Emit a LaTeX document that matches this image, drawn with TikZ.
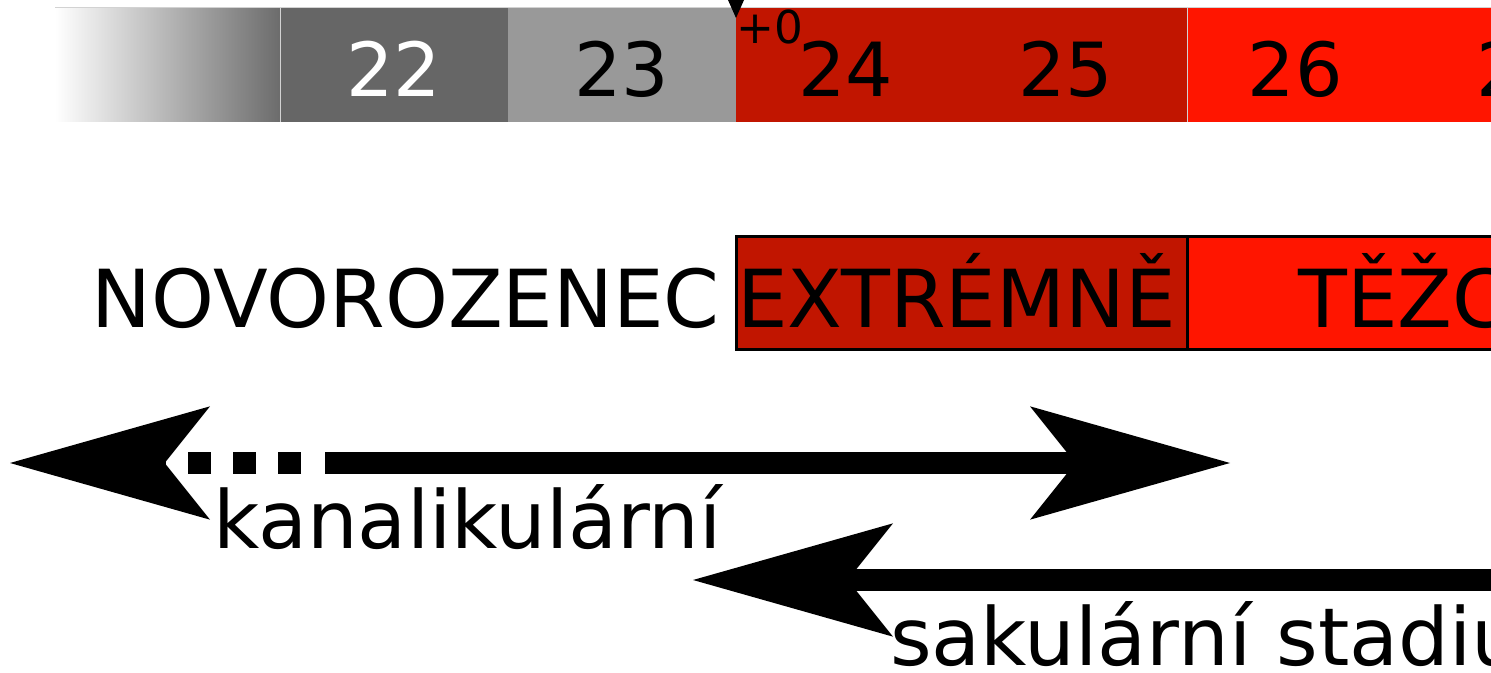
\documentclass[tikz,border=0pt]{standalone}
\usepackage{fontspec}
\setmainfont{DejaVu Sans}
\usetikzlibrary{arrows.meta}
\definecolor{darkred}{HTML}{C11500}
\definecolor{brightred}{HTML}{FF1500}
\definecolor{gdark}{HTML}{666666}
\definecolor{gend}{HTML}{6C6C6C}
\definecolor{glight}{HTML}{999999}
\begin{document}
\begin{tikzpicture}[x=0.75pt,y=-0.75pt,
  week/.style={font=\fontsize{56}{60}\selectfont, anchor=base, inner sep=0pt},
  label/.style={font=\fontsize{60}{64}\selectfont, anchor=base west, inner sep=0pt},
  bigarrow/.style={line width=16.5pt, -{Stealth[length=150pt,width=85pt,inset=34pt,line width=0pt]}},
  stagebox/.style={draw=black, line width=2.25pt}]
\useasboundingbox (0,0) rectangle (1491,673);
\clip (0,0) rectangle (1491,673);
% top week bar
\shade[left color=white, right color=gend] (55,8) rectangle (280,122);
\fill[gdark] (280,8) rectangle (508,122);
\fill[glight] (508,8) rectangle (736,122);
\fill[darkred] (736,8) rectangle (1187,122);
\fill[brightred] (1187,8) rectangle (1600,122);
\draw[gray!35, line width=0.75pt] (55,8) -- (1600,8);
\draw[gray!35, line width=0.5pt] (280,8) -- (280,122) (1187,8) -- (1187,122);
\node[week, text=white] (w22) at (394,97) {22};
\node[week] (w23) at (622,97) {23};
\node[week] (w24) at (846,97) {24};
\node[week] (w25) at (1066,97) {25};
\node[week] (w26) at (1295,97) {26};
\node[week] (w27) at (1524,97) {27};
% marker
\fill[black] (728,0) -- (744,0) -- (736,18) -- cycle;
\node[font=\fontsize{34}{36}\selectfont, anchor=base west, inner sep=0pt] (p0) at (736,44) {+0};
% stage row
\node[label, anchor=base east] (nov) at (720,328) {NOVOROZENEC};
\filldraw[stagebox, fill=darkred] (736,237) rectangle (1187,350);
\filldraw[stagebox, fill=brightred] (1187,237) rectangle (1600,350);
\node[label] (ext) at (737,328) {EXTRÉMNĚ};
\node[label] (tez) at (1298,328) {TĚŽCE};
% arrows
\coordinate (a1L) at (10,463);
\coordinate (a1M) at (301,463);
\coordinate (a1S) at (325,463);
\coordinate (a1R) at (1230,463);
\draw[bigarrow, dash pattern=on 17pt off 16.75pt] (a1M) -- (a1L);
\draw[bigarrow] (a1S) -- (a1R);
\node[label] (kan) at (213,548) {kanalikulární};
\coordinate (a2L) at (693,580);
\coordinate (a2R) at (1600,580);
\draw[bigarrow] (a2R) -- (a2L);
\node[label] (sak) at (890,665) {sakulární stadium};
\end{tikzpicture}
\end{document}
